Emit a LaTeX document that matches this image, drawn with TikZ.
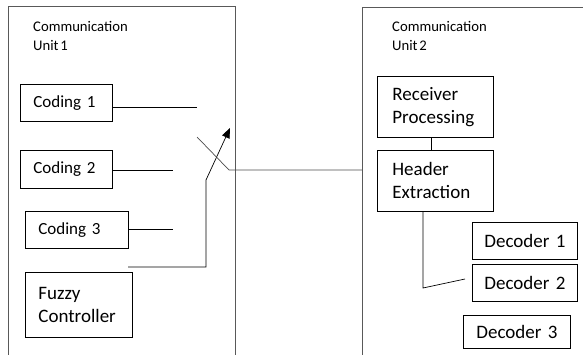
\documentclass[tikz,border=0pt]{standalone}
\usepackage{fontspec}
\setmainfont{Carlito}[WordSpace=0.5]
\usetikzlibrary{arrows.meta}
\usetikzlibrary{calc}

\begin{document}
\begin{tikzpicture}[x=1pt,y=-1pt]
\tikzset{
  blk/.style={draw, line width=0.8pt, anchor=north west, align=left,
    inner xsep=13pt, inner ysep=0pt, font=\fontsize{19}{23}\selectfont},
  cod/.style={blk, font=\fontsize{17}{20}\selectfont},
  unit/.style={draw=black!65, line width=0.9pt},
  wire/.style={line width=0.7pt},
  ttl/.style={anchor=north west, align=left, inner sep=0pt,
    font=\fontsize{14.7}{19}\selectfont}
}
\useasboundingbox (0,0) rectangle (583,355);

% the two units, open at the bottom
\draw[unit] (8,360) |- (235,6) -- (235,360);
\draw[unit] (362,360) |- (590,7);
\node[ttl] (t1) at (33,21) {Communication\\Unit 1};
\node[ttl] (t2) at (392,21) {Communication\\Unit 2};

% unit 1
\node[cod, text width=66, minimum height=37] (cod1) at (20,84) {Coding 1};
\node[cod, text width=66, minimum height=38] (cod2) at (20,150) {Coding 2};
\node[cod, text width=77, minimum height=37] (cod3) at (25,211) {Coding 3};
\node[blk, text width=81, minimum height=65] (fuzzy) at (25,272) {Fuzzy\\Controller};

\coordinate (s1) at (197,107);
\coordinate (s2) at (173,170);
\coordinate (s3) at (173,229);
\draw[wire] (cod1.east |- s1) -- (s1);
\draw[wire] (cod2.east |- s2) -- (s2);
\draw[wire] (cod3.east |- s3) -- (s3);

\coordinate (ctl) at (128,267);
\coordinate (bend) at (206,180);
\coordinate (tip) at (230,128);
\draw[wire, -{Triangle[length=10pt,width=8pt]}] (ctl) -| (bend) -- (tip);

\coordinate (sw) at (197,137);
\coordinate (pivot) at (229,170);
\draw[wire, black!70] (sw) -- (pivot) -- (362,170);

% unit 2
\node[blk, inner xsep=15pt, text width=86, minimum height=61] (recv) at (377,76) {Receiver\\Processing};
\node[blk, inner xsep=15pt, text width=86, minimum height=61] (hdr) at (377,150) {Header\\Extraction};
\node[blk, inner xsep=12pt, text width=81, minimum height=37] (dec1) at (472,222) {\mbox{Decoder 1}};
\node[blk, inner xsep=12pt, text width=81, minimum height=37] (dec2) at (472,264) {\mbox{Decoder 2}};
\node[blk, inner xsep=13pt, text width=81, minimum height=33] (dec3) at (463,315) {\mbox{Decoder 3}};

\draw[wire] ([xshift=-4pt]recv.south) -- ([xshift=-4pt]hdr.north);
\coordinate (jn) at (423,288);
\coordinate (d2in) at (465,279);
\draw[wire] (hdr.south -| jn) -- (jn) -- (d2in);

\end{tikzpicture}
\end{document}
